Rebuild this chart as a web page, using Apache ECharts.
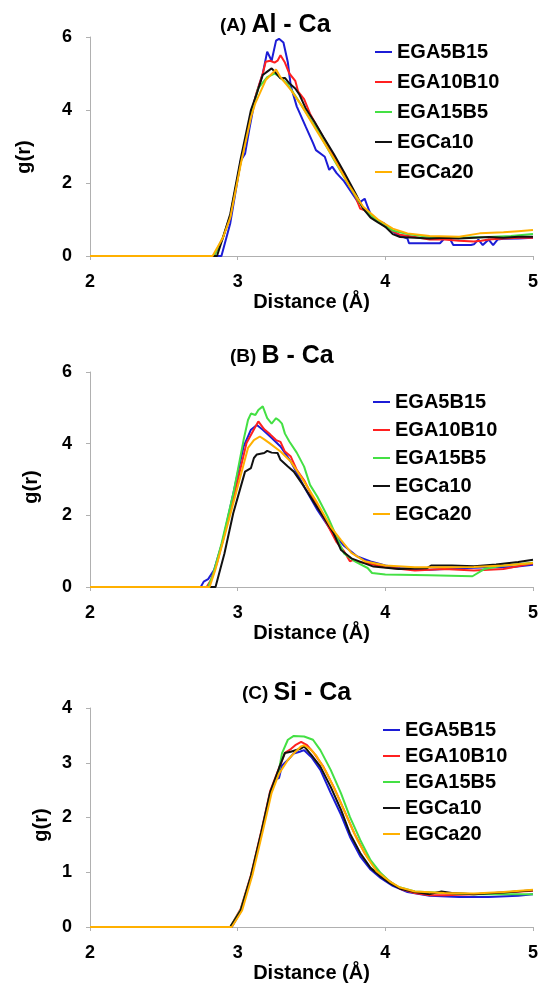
<!DOCTYPE html>
<html>
<head>
<meta charset="utf-8">
<script src="https://cdn.jsdelivr.net/npm/echarts@6/dist/echarts.min.js"></script>
<style>
  html, body { margin: 0; padding: 0; background: #fff; }
  #chart { width: 541px; height: 984px; }
</style>
</head>
<body>
<div id="chart"></div>
<script>
// series names (legend order)
var names = ['EGA5B15', 'EGA10B10', 'EGA15B5', 'EGCa10', 'EGCa20'];
var colors = ['#1c1cd6', '#ff2020', '#44e044', '#111111', '#ffb000'];

// (A) Al - Ca, [distance, g(r)]
var alBlue = [[2,0],[2.89,0],[2.95,0.9],[3.0,2.1],[3.02,2.6],[3.05,2.8],[3.08,3.5],[3.12,4.35],[3.17,5.0],[3.2,5.6],[3.23,5.35],[3.26,5.9],[3.28,5.95],[3.31,5.85],[3.34,5.3],[3.36,4.65],[3.40,4.1],[3.46,3.55],[3.51,3.1],[3.53,2.9],[3.59,2.72],[3.62,2.36],[3.64,2.45],[3.67,2.27],[3.72,2.05],[3.77,1.75],[3.82,1.45],[3.86,1.57],[3.88,1.35],[3.9,1.15],[3.94,0.98],[3.99,0.9],[4.05,0.67],[4.1,0.55],[4.15,0.48],[4.16,0.35],[4.37,0.35],[4.4,0.48],[4.44,0.45],[4.46,0.3],[4.58,0.3],[4.6,0.32],[4.63,0.45],[4.66,0.3],[4.7,0.45],[4.73,0.3],[4.76,0.45],[4.8,0.47],[4.9,0.48],[5,0.5]];
var alRed = [[2,0],[2.84,0],[2.9,0.5],[2.95,1.1],[3.02,2.55],[3.09,3.9],[3.13,4.5],[3.17,5.0],[3.19,5.32],[3.22,5.35],[3.25,5.3],[3.27,5.35],[3.29,5.5],[3.32,5.3],[3.35,5.0],[3.39,4.8],[3.41,4.5],[3.45,4.3],[3.49,3.9],[3.52,3.68],[3.58,3.25],[3.65,2.75],[3.72,2.25],[3.76,1.95],[3.8,1.6],[3.83,1.3],[3.86,1.25],[3.9,1.1],[3.95,0.95],[4.0,0.8],[4.05,0.68],[4.1,0.58],[4.2,0.52],[4.3,0.45],[4.4,0.45],[4.5,0.42],[4.6,0.4],[4.65,0.42],[4.7,0.45],[4.8,0.48],[4.9,0.5],[5,0.5]];
var alGreen = [[2,0],[2.84,0],[2.9,0.5],[2.95,1.1],[3.02,2.55],[3.09,3.85],[3.14,4.6],[3.2,4.9],[3.25,5.0],[3.28,4.92],[3.34,4.7],[3.43,4.14],[3.54,3.45],[3.65,2.65],[3.76,1.9],[3.85,1.3],[3.95,0.95],[4.05,0.7],[4.15,0.6],[4.3,0.52],[4.5,0.5],[4.7,0.52],[4.85,0.55],[5,0.6]];
var alBlack = [[2,0],[2.86,0],[2.9,0.5],[2.95,1.15],[3.02,2.65],[3.09,4.0],[3.13,4.46],[3.17,4.96],[3.20,5.05],[3.23,5.14],[3.25,5.05],[3.29,4.87],[3.32,4.88],[3.35,4.73],[3.39,4.59],[3.42,4.41],[3.46,4.05],[3.52,3.68],[3.58,3.27],[3.65,2.8],[3.72,2.3],[3.76,2.0],[3.8,1.7],[3.85,1.3],[3.9,1.05],[3.95,0.92],[4.0,0.8],[4.05,0.6],[4.1,0.52],[4.2,0.5],[4.3,0.48],[4.4,0.5],[4.5,0.48],[4.6,0.5],[4.7,0.52],[4.8,0.5],[4.9,0.53],[5,0.53]];
var alOrange = [[2,0],[2.83,0],[2.9,0.5],[2.95,1.05],[3.02,2.5],[3.09,3.8],[3.12,4.19],[3.19,4.82],[3.26,5.11],[3.29,4.9],[3.36,4.55],[3.43,4.14],[3.54,3.4],[3.65,2.68],[3.76,1.9],[3.85,1.35],[3.95,1.0],[4.05,0.75],[4.15,0.62],[4.3,0.55],[4.5,0.53],[4.64,0.62],[4.8,0.65],[4.9,0.68],[5,0.71]];

// (B) B - Ca
var bBlue = [[2,0],[2.75,0],[2.77,0.15],[2.8,0.22],[2.84,0.47],[2.9,1.3],[2.97,2.6],[3.04,3.92],[3.09,4.39],[3.13,4.52],[3.17,4.39],[3.22,4.2],[3.29,3.92],[3.36,3.5],[3.45,2.8],[3.54,2.15],[3.63,1.59],[3.68,1.35],[3.72,1.15],[3.81,0.85],[3.9,0.71],[4.0,0.6],[4.1,0.53],[4.3,0.48],[4.5,0.52],[4.7,0.55],[4.85,0.55],[5,0.62]];
var bRed = [[2,0],[2.79,0],[2.82,0.2],[2.86,0.67],[2.95,2.1],[3.06,4.02],[3.12,4.47],[3.14,4.62],[3.18,4.4],[3.22,4.26],[3.26,4.1],[3.29,4.05],[3.32,3.78],[3.36,3.64],[3.40,3.27],[3.45,2.98],[3.52,2.4],[3.6,1.8],[3.67,1.25],[3.72,1.0],[3.76,0.72],[3.78,0.75],[3.82,0.7],[3.88,0.66],[4.0,0.55],[4.2,0.46],[4.4,0.5],[4.6,0.46],[4.8,0.5],[5,0.66]];
var bGreen = [[2,0],[2.8,0],[2.83,0.3],[2.89,1.2],[2.97,2.6],[3.04,4.1],[3.07,4.66],[3.09,4.84],[3.12,4.8],[3.14,4.94],[3.17,5.04],[3.20,4.71],[3.23,4.56],[3.26,4.71],[3.28,4.65],[3.30,4.56],[3.32,4.28],[3.35,4.06],[3.4,3.75],[3.45,3.36],[3.49,2.85],[3.54,2.52],[3.61,1.96],[3.67,1.4],[3.72,0.94],[3.8,0.7],[3.88,0.53],[3.91,0.39],[4.0,0.35],[4.3,0.33],[4.59,0.3],[4.67,0.5],[4.8,0.6],[5,0.68]];
var bBlack = [[2,0],[2.85,0],[2.91,0.93],[2.97,2.06],[3.05,3.22],[3.09,3.32],[3.11,3.6],[3.13,3.7],[3.18,3.74],[3.2,3.8],[3.23,3.75],[3.27,3.74],[3.29,3.55],[3.34,3.36],[3.38,3.22],[3.45,2.8],[3.52,2.34],[3.58,1.96],[3.65,1.5],[3.7,1.03],[3.77,0.8],[3.86,0.66],[3.92,0.57],[4.09,0.5],[4.28,0.52],[4.31,0.6],[4.45,0.6],[4.6,0.58],[4.75,0.63],[4.9,0.7],[5,0.76]];
var bOrange = [[2,0],[2.81,0],[2.85,0.5],[2.91,1.4],[3.0,2.8],[3.07,3.88],[3.11,4.1],[3.15,4.2],[3.18,4.12],[3.22,4.0],[3.29,3.78],[3.36,3.5],[3.45,2.94],[3.54,2.34],[3.63,1.68],[3.7,1.31],[3.77,0.95],[3.86,0.72],[4.0,0.6],[4.2,0.55],[4.4,0.55],[4.6,0.56],[4.8,0.6],[5,0.67]];

// (C) Si - Ca
var siBlue = [[2,0],[2.96,0],[3.02,0.28],[3.09,0.9],[3.16,1.7],[3.22,2.42],[3.26,2.7],[3.28,2.72],[3.3,2.95],[3.34,3.05],[3.38,3.17],[3.42,3.2],[3.45,3.23],[3.5,3.1],[3.56,2.87],[3.63,2.45],[3.70,2.05],[3.76,1.65],[3.83,1.29],[3.90,1.05],[3.97,0.89],[4.05,0.75],[4.15,0.64],[4.3,0.57],[4.5,0.55],[4.7,0.55],[4.9,0.57],[5,0.6]];
var siRed = [[2,0],[2.95,0],[3.02,0.33],[3.09,0.95],[3.16,1.75],[3.22,2.48],[3.28,2.9],[3.32,3.18],[3.36,3.25],[3.39,3.32],[3.43,3.38],[3.47,3.32],[3.51,3.2],[3.58,2.93],[3.65,2.56],[3.72,2.14],[3.79,1.71],[3.86,1.35],[3.93,1.08],[4.01,0.87],[4.1,0.7],[4.2,0.62],[4.3,0.58],[4.4,0.58],[4.6,0.6],[4.8,0.63],[5,0.66]];
var siGreen = [[2,0],[2.95,0],[3.02,0.31],[3.09,0.92],[3.16,1.71],[3.22,2.44],[3.28,2.87],[3.30,3.17],[3.34,3.42],[3.38,3.49],[3.45,3.48],[3.51,3.42],[3.56,3.23],[3.63,2.87],[3.70,2.44],[3.76,2.01],[3.83,1.59],[3.90,1.22],[3.97,0.98],[4.03,0.83],[4.09,0.73],[4.2,0.65],[4.4,0.62],[4.6,0.6],[4.8,0.6],[5,0.6]];
var siBlack = [[2,0],[2.95,0],[3.02,0.3],[3.09,0.93],[3.16,1.73],[3.22,2.46],[3.28,2.9],[3.32,3.18],[3.36,3.2],[3.43,3.26],[3.45,3.3],[3.50,3.14],[3.56,2.93],[3.63,2.56],[3.70,2.14],[3.76,1.71],[3.83,1.35],[3.90,1.08],[3.97,0.92],[4.03,0.8],[4.1,0.7],[4.2,0.64],[4.3,0.6],[4.38,0.65],[4.45,0.62],[4.6,0.6],[4.8,0.63],[5,0.67]];
var siOrange = [[2,0],[2.96,0],[3.03,0.3],[3.1,0.95],[3.17,1.75],[3.23,2.45],[3.28,2.8],[3.34,3.05],[3.38,3.17],[3.43,3.3],[3.45,3.32],[3.49,3.25],[3.53,3.14],[3.60,2.83],[3.67,2.44],[3.74,2.01],[3.81,1.59],[3.88,1.26],[3.94,1.02],[4.03,0.83],[4.1,0.72],[4.2,0.65],[4.4,0.62],[4.6,0.61],[4.8,0.64],[5,0.68]];

var xTicks = [2, 3, 4, 5];
var yMax = [6, 6, 4];
var yStep = [2, 2, 1];
var panelLabels = ['(A)', '(B)', '(C)'];
var panelPairs = ['Al - Ca', 'B - Ca', 'Si - Ca'];

var panels = [
  [alBlue, alRed, alGreen, alBlack, alOrange],
  [bBlue, bRed, bGreen, bBlack, bOrange],
  [siBlue, siRed, siGreen, siBlack, siOrange]
];

var font = "'Liberation Sans', Arial, sans-serif";

// layout per panel
var gridTop = [37, 372, 708];
var gridH = [219, 215, 219];
var titlePos = [[220, 13], [230, 344], [242, 681]];
var legendPos = [[375, 42], [373, 392], [383, 720]];
var legendGap = [10, 8, 6];
var yNameGap = [56, 49, 37];
var yNameShift = [21, 15, 15];

var dom = document.getElementById('chart');
var myChart = echarts.init(dom);

var grids = [], xAxes = [], yAxes = [], titles = [], legends = [], series = [];
for (var p = 0; p < 3; p++) {
  grids.push({ left: 90, right: 6, top: gridTop[p], height: gridH[p] });
  xAxes.push({
    type: 'value', gridIndex: p, min: xTicks[0], max: xTicks[xTicks.length - 1], interval: 1,
    name: 'Distance (Å)', nameLocation: 'middle', nameGap: 36,
    nameTextStyle: { fontFamily: font, fontWeight: 'bold', fontSize: 20, color: '#000' },
    axisLine: { lineStyle: { color: '#b0b0b0', width: 1 } },
    axisTick: { show: true, length: 4, lineStyle: { color: '#b0b0b0' } },
    axisLabel: { fontFamily: font, fontWeight: 'bold', fontSize: 18, color: '#000', margin: 17 },
    splitLine: { show: false }
  });
  yAxes.push({
    type: 'value', gridIndex: p, min: 0, max: yMax[p], interval: yStep[p],
    name: 'g(r)', nameLocation: 'middle', nameGap: yNameGap[p], nameRotate: 90,
    nameTextStyle: { fontFamily: font, fontWeight: 'bold', fontSize: 20, color: '#000',
      padding: [0, yNameShift[p], 0, 0] },
    axisLine: { show: true, lineStyle: { color: '#b0b0b0', width: 1 } },
    axisTick: { show: true, length: 4, lineStyle: { color: '#b0b0b0' } },
    axisLabel: { fontFamily: font, fontWeight: 'bold', fontSize: 18, color: '#000', margin: 18 },
    splitLine: { show: false }
  });
  titles.push({
    text: '{s|' + panelLabels[p] + '} {b|' + panelPairs[p] + '}',
    left: titlePos[p][0], top: titlePos[p][1], padding: 0,
    textStyle: {
      rich: {
        s: { fontFamily: font, fontWeight: 'bold', fontSize: 19, color: '#000' },
        b: { fontFamily: font, fontWeight: 'bold', fontSize: 25, color: '#000' }
      }
    }
  });
  legends.push({
    data: names, orient: 'vertical', left: legendPos[p][0], top: legendPos[p][1],
    padding: 0, icon: 'rect', itemWidth: 17, itemHeight: 2, itemGap: legendGap[p],
    textStyle: { fontFamily: font, fontWeight: 'bold', fontSize: 20, lineHeight: 20, color: '#000' }
  });
  for (var s = 0; s < 5; s++) {
    series.push({
      name: names[s], type: 'line', xAxisIndex: p, yAxisIndex: p,
      data: panels[p][s], showSymbol: false, symbol: 'none',
      lineStyle: { color: colors[s], width: 2 },
      itemStyle: { color: colors[s] },
      z: 2 + s
    });
  }
}

var option = {
  backgroundColor: '#fff',
  animation: false,
  title: titles,
  legend: legends,
  grid: grids,
  xAxis: xAxes,
  yAxis: yAxes,
  series: series
};

myChart.setOption(option);
</script>
</body>
</html>
